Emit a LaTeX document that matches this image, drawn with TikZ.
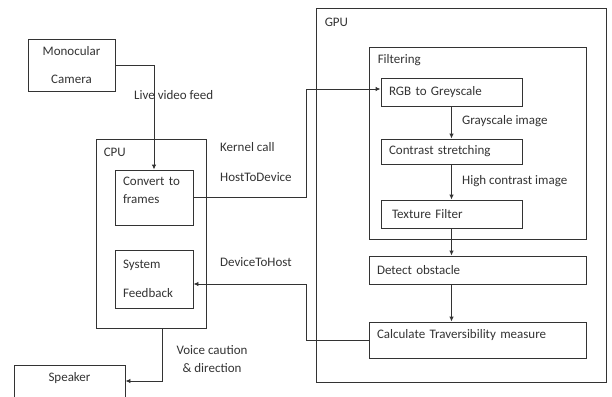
\documentclass[tikz,border=0pt]{standalone}
\usepackage{fontspec}
\setmainfont{Carlito}
\usetikzlibrary{arrows.meta,positioning}
\definecolor{ink}{HTML}{333333}

\begin{document}
\begin{tikzpicture}[x=1pt,y=-1pt,>={Latex[length=5pt,width=4.5pt]},
  every node/.style={font=\fontsize{13}{18}\selectfont, text=ink},
  blk/.style={draw=ink, line width=0.9pt, inner sep=0pt, inner xsep=8pt},
  lbl/.style={anchor=west, inner sep=0pt},
  head/.style={anchor=north west, inner sep=0pt}]
   \useasboundingbox (0,0) rectangle (612,396);
   % host side
   \node[blk, minimum width=87pt, minimum height=52pt, align=center] (cam) at (71.5,65) {Monocular\\[10pt]Camera};
   \node[blk, minimum width=110pt, minimum height=189pt,
         label={[head, xshift=8pt, yshift=-9pt]north west:CPU}] (cpu) at (151,233.5) {};
   \node[blk, text width=62pt, minimum height=55pt, text depth=33pt, align=left] (conv) at (154,197.5) {Convert to\\frames};
   \node[blk, text width=62pt, minimum height=58pt, align=left] (sys) at (154,279) {System\\[11pt]Feedback};
   \node[blk, minimum width=111pt, minimum height=32pt, text depth=8pt] (spk) at (69.5,381) {Speaker};
   % device side
   \node[blk, minimum width=290pt, minimum height=374pt,
         label={[head, xshift=9pt, yshift=-10pt]north west:GPU}] (gpu) at (461,195) {};
   \node[blk, minimum width=217pt, minimum height=192pt,
         label={[head, xshift=9pt, yshift=-8pt]north west:Filtering}] (filt) at (477.5,143) {};
   \node[blk, text width=125pt, minimum height=28pt, align=left] (rgb) at (451.5,92) {RGB to Greyscale};
   \node[blk, text width=125pt, minimum height=25pt, align=left] (con) at (451.5,151.5) {Contrast stretching};
   \node[blk, text width=125pt, minimum height=28pt, align=left] (tex) at (451.5,214) {\hspace{3pt}Texture Filter};
   \node[blk, text width=201pt, minimum height=28pt, align=left] (det) at (477.5,270) {Detect obstacle};
   \node[blk, text width=201pt, minimum height=36pt, text depth=12pt, align=left] (calc) at (477.5,340) {Calculate Traversibility measure};
   % connector labels
   \node[lbl] (live) at (134,95) {Live video feed};
   \node[lbl] (kern) at (220,147) {Kernel call};
   \node[lbl] (h2d) at (220,177) {HostToDevice};
   \node[lbl] (d2h) at (220,262) {DeviceToHost};
   \node[align=center, inner sep=0pt] (voice) at (212,359) {Voice caution\\\& direction};
   \node[lbl] (gray) at (462,121) {Grayscale image};
   \node[lbl] (hic) at (462,181) {High contrast image};
   % connectors
   \coordinate (bus) at (306,0);
   \coordinate (out) at (162,0);
   \begin{scope}[draw=ink, line width=0.9pt]
    \draw[->] (cam.east) -| (conv.north);
    \draw[->] (conv.east) -- (conv.east -| bus) |- ([yshift=3pt]rgb.west);
    \draw[->] (calc.west) -- (calc.west -| bus) |- ([yshift=-5pt]sys.east);
    \draw[->] (cpu.south -| out) |- (spk.east);
    \path[->] (rgb) edge (con)
              (con) edge (tex);
    \draw[->] (tex.south) -- (tex.south |- det.north);
    \draw[->] (tex.south |- det.south) -- (tex.south |- calc.north);
   \end{scope}
\end{tikzpicture}
\end{document}
